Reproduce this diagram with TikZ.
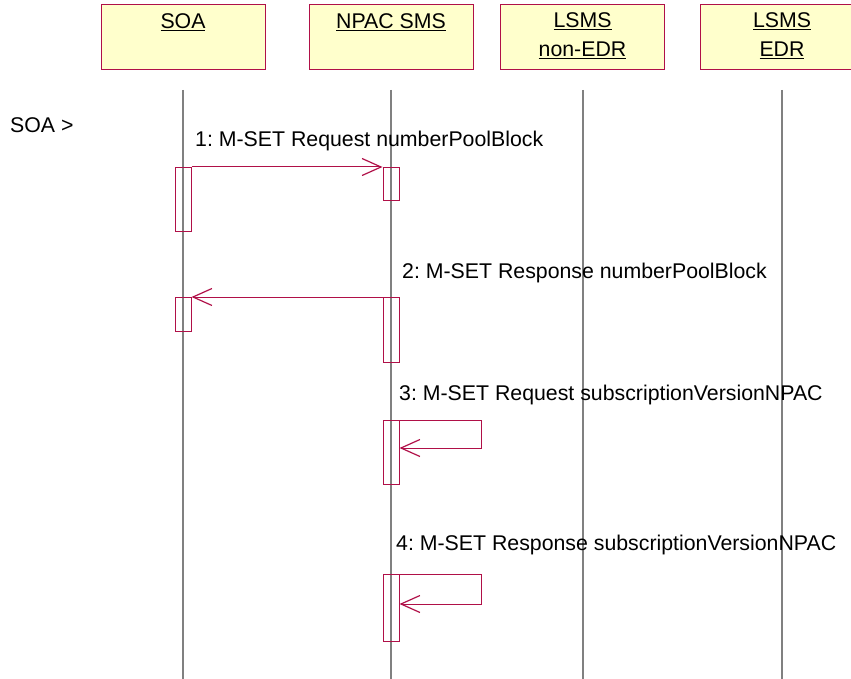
\documentclass[tikz,border=0pt]{standalone}
\usepackage{fontspec}
\setmainfont{Liberation Sans}
\usepackage{xcolor}
\usetikzlibrary{arrows.meta,positioning}
\definecolor{seqred}{HTML}{B01048}
\definecolor{hdrfill}{HTML}{FFFFCC}
\frenchspacing

\begin{document}
\begin{tikzpicture}[x=1pt, y=-1pt,
    every node/.style={font=\fontsize{21.3}{29}\selectfont},
    hdr/.style={draw=seqred, fill=hdrfill, line width=1pt, minimum width=164pt, minimum height=65pt, anchor=north, inner sep=0pt},
    hdrtxt/.style={anchor=base, inner sep=0pt},
    life/.style={draw=gray, line width=1.4pt},
    act/.style={draw=seqred, line width=1pt, minimum width=16pt, anchor=north, inner sep=0pt},
    msg/.style={draw=seqred, line width=1pt, -{Straight Barb[length=19pt,width=17pt,line width=1.2pt]}},
    lbl/.style={anchor=base west, inner sep=0pt}]
    \useasboundingbox (0,0) rectangle (851,679);
    % Lifelines
    \draw[life] (183,90) -- (183,679);
    \draw[life] (391,90) -- (391,679);
    \draw[life] (583,90) -- (583,679);
    \draw[life] (782,90) -- (782,679);
    % Heads
    \node[hdr] (soa) at (183,4) {};
    \node[hdr] (npac) at (391,4) {};
    \node[hdr] (lsmsA) at (582.5,4) {};
    \node[hdr] (lsmsB) at (782,4) {};
    \node[hdrtxt] (soaT) at (183,29) {\underline{SOA}};
    \node[hdrtxt] (npacT) at (391,29) {\underline{NPAC SMS}};
    \node[hdrtxt] (lsmsAT) at (582.5,28) {\underline{LSMS}};
    \node[hdrtxt] (lsmsAU) at (582.5,57) {\underline{non-EDR}};
    \node[hdrtxt] (lsmsBT) at (782,28) {\underline{LSMS}};
    \node[hdrtxt] (lsmsBU) at (782,57) {\underline{EDR}};
    \node[lbl] (actor) at (10,133) {SOA >};
    % Activations
    \node[act, minimum height=64pt] (sa1) at (183,167) {};
    \node[act, minimum height=33pt] (na1) at (391,167) {};
    \node[act, minimum height=34pt] (sa2) at (183,297) {};
    \node[act, minimum height=65pt] (na2) at (391,297) {};
    \node[act, minimum height=64pt] (na3) at (391,420) {};
    \node[act, minimum height=67pt] (na4) at (391,574) {};
    % Messages
    \draw[msg] (sa1.north east) -- (na1.north west);
    \node[lbl] (m1) at (195,147) {1: M-SET Request numberPoolBlock};
    \draw[msg] (na2.north west) -- (sa2.north east);
    \node[lbl] (m2) at (402,278) {2: M-SET Response numberPoolBlock};
    \draw[msg] (na3.north east) -- ++(82,0) -- ++(0,28) -- ([yshift=-28pt]na3.north east);
    \node[lbl] (m3) at (399,400) {3: M-SET Request subscriptionVersionNPAC};
    \draw[msg] (na4.north east) -- ++(82,0) -- ++(0,30) -- ([yshift=-30pt]na4.north east);
    \node[lbl] (m4) at (396,550) {4: M-SET Response subscriptionVersionNPAC};
\end{tikzpicture}
\end{document}
